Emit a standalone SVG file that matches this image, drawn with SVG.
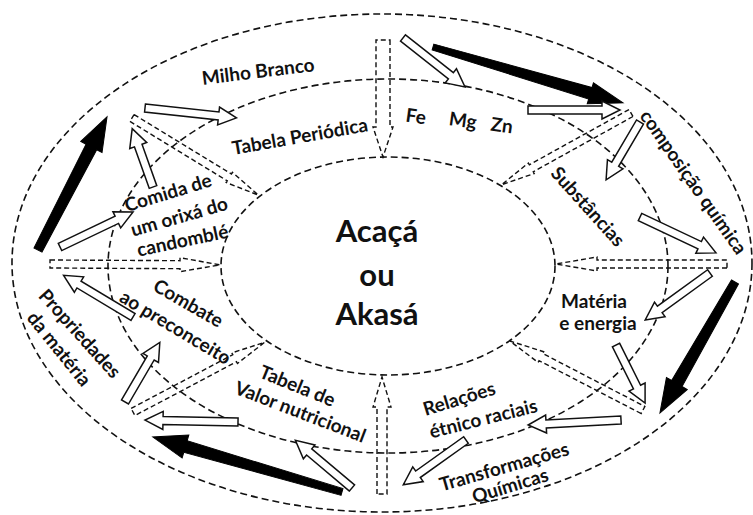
<svg xmlns="http://www.w3.org/2000/svg" width="753" height="515" viewBox="0 0 753 515">
<style>
.ring{fill:none;stroke:#111;stroke-width:1.6;stroke-dasharray:7 4}
.blk{fill:#000;stroke:#000;stroke-width:1}
.wht{fill:#fff;stroke:#111;stroke-width:1.5;stroke-linejoin:miter}
.dsh{fill:none;stroke:#111;stroke-width:1.4;stroke-dasharray:5 3}
.lbl{font-family:Lato,"Open Sans","Liberation Sans",sans-serif;font-weight:700;font-size:19px;fill:#111;text-anchor:middle}
.ctr{font-family:Lato,"Open Sans","Liberation Sans",sans-serif;font-weight:700;font-size:31px;fill:#111;text-anchor:middle}
</style>
<rect width="753" height="515" fill="#fff"/>
<g id="rings">
<ellipse class="ring" cx="382" cy="263" rx="370" ry="249"/>
<ellipse class="ring" cx="388" cy="266" rx="280" ry="187"/>
<ellipse class="ring" cx="388" cy="266" rx="167" ry="109"/>
</g>
<g id="connectors">
<g id="black-arrows">
<polygon class="blk" transform="translate(38,250) rotate(-62.6)" points="0,-4.5 116,-6 116,-12 150,0 116,12 116,6 0,4.5"/>
<polygon class="blk" transform="translate(433,47) rotate(16.4)" points="0,-3 164,-6 164,-11 198,0 164,11 164,6 0,3"/>
<polygon class="blk" transform="translate(735,282) rotate(119.8)" points="0,-4 117,-6 117,-12 151,0 117,12 117,6 0,4"/>
<polygon class="blk" transform="translate(342,492) rotate(196.2)" points="0,-3.5 163,-6 163,-12 197,0 163,12 163,6 0,3.5"/>
</g>
<g id="white-arrows">
<polygon class="wht" transform="translate(145,108) rotate(6.2)" points="0,-4 74,-4 74,-9 92,0 74,9 74,4 0,4"/>
<polygon class="wht" transform="translate(153,187) rotate(-109.6)" points="0,-4 44,-4 44,-9 62,0 44,9 44,4 0,4"/>
<polygon class="wht" transform="translate(60,247) rotate(-25.6)" points="0,-4 63,-4 63,-9 81,0 63,9 63,4 0,4"/>
<polygon class="wht" transform="translate(403,38) rotate(38.3)" points="0,-4 61,-4 61,-9 79,0 61,9 61,4 0,4"/>
<polygon class="wht" transform="translate(528,110) rotate(0)" points="0,-4 74,-4 74,-9 92,0 74,9 74,4 0,4"/>
<polygon class="wht" transform="translate(640,122) rotate(120.4)" points="0,-4 49,-4 49,-9 67,0 49,9 49,4 0,4"/>
<polygon class="wht" transform="translate(640,217) rotate(25.3)" points="0,-4 66,-4 66,-9 84,0 66,9 66,4 0,4"/>
<polygon class="wht" transform="translate(710,273) rotate(144.1)" points="0,-4 62,-4 62,-9 80,0 62,9 62,4 0,4"/>
<polygon class="wht" transform="translate(616,345) rotate(63.4)" points="0,-4 47,-4 47,-9 65,0 47,9 47,4 0,4"/>
<polygon class="wht" transform="translate(621,420) rotate(176.9)" points="0,-4 75,-4 75,-9 93,0 75,9 75,4 0,4"/>
<polygon class="wht" transform="translate(466,440) rotate(144.5)" points="0,-4 59,-4 59,-9 77,0 59,9 59,4 0,4"/>
<polygon class="wht" transform="translate(352,488) rotate(-139.9)" points="0,-4 56,-4 56,-9 74,0 56,9 56,4 0,4"/>
<polygon class="wht" transform="translate(238,422) rotate(181.2)" points="0,-4 75,-4 75,-9 93,0 75,9 75,4 0,4"/>
<polygon class="wht" transform="translate(125,402) rotate(-59.7)" points="0,-4 51,-4 51,-9 69,0 51,9 51,4 0,4"/>
<polygon class="wht" transform="translate(133,317) rotate(-149)" points="0,-4 63,-4 63,-9 81,0 63,9 63,4 0,4"/>
</g>
<g id="dashed-arrows">
<polygon class="dsh" transform="translate(383,40) rotate(90)" points="0,-7 87,-7 87,-10 117,0 87,10 87,7 0,7"/>
<polygon class="dsh" transform="translate(382,494) rotate(-90)" points="0,-5 87,-5 87,-9 117,0 87,9 87,5 0,5"/>
<polygon class="dsh" transform="translate(50,264) rotate(0.3)" points="0,-4 130,-4 130,-7 170,0 130,7 130,4 0,4"/>
<polygon class="dsh" transform="translate(727,264) rotate(180)" points="0,-4 130,-4 130,-7 171,0 130,7 130,4 0,4"/>
<polygon class="dsh" transform="translate(132,118) rotate(31.4)" points="0,-4 114,-4 114,-6 148,0 114,6 114,4 0,4"/>
<polygon class="dsh" transform="translate(631,113) rotate(151)" points="0,-4 114,-4 114,-6 148,0 114,6 114,4 0,4"/>
<polygon class="dsh" transform="translate(133,412) rotate(-27.9)" points="0,-4 115,-4 115,-6 149,0 115,6 115,4 0,4"/>
<polygon class="dsh" transform="translate(643,410) rotate(-152.6)" points="0,-4 115,-4 115,-6 150,0 115,6 115,4 0,4"/>
</g>
</g>
<g id="node-center">
<text class="ctr" x="377" y="242">Acaçá</text>
<text class="ctr" x="377" y="286">ou</text>
<text class="ctr" x="377" y="325">Akasá</text>
</g>
<g id="node-milho"><text class="lbl" transform="translate(259,78) rotate(-7)">Milho Branco</text></g>
<g id="node-tabela-periodica"><text class="lbl" transform="translate(301,143) rotate(-10)">Tabela Periódica</text></g>
<g id="node-elementos">
<text class="lbl" transform="translate(415,123) rotate(8)">Fe</text>
<text class="lbl" transform="translate(462,127) rotate(8)">Mg</text>
<text class="lbl" transform="translate(501,132) rotate(8)">Zn</text>
</g>
<g id="node-composicao"><text class="lbl" transform="translate(688,186) rotate(55)">composição química</text></g>
<g id="node-substancias"><text class="lbl" transform="translate(583,211) rotate(48)">Substâncias</text></g>
<g id="node-materia">
<text class="lbl" x="594" y="308">Matéria</text>
<text class="lbl" x="598" y="330">e energia</text>
</g>
<g id="node-relacoes">
<text class="lbl" transform="translate(461,405) rotate(-17)">Relações</text>
<text class="lbl" transform="translate(485,425) rotate(-14)">étnico raciais</text>
</g>
<g id="node-transformacoes">
<text class="lbl" transform="translate(506,473) rotate(-16)">Transformações</text>
<text class="lbl" transform="translate(512,492) rotate(-17)">Químicas</text>
</g>
<g id="node-tabela-valor">
<text class="lbl" transform="translate(295,392) rotate(22)">Tabela de</text>
<text class="lbl" transform="translate(298,418) rotate(21)">Valor nutricional</text>
</g>
<g id="node-combate">
<text class="lbl" transform="translate(185,309) rotate(30)">Combate</text>
<text class="lbl" transform="translate(172,333) rotate(31)">ao preconceito</text>
</g>
<g id="node-propriedades">
<text class="lbl" transform="translate(75,338) rotate(48)">Propriedades</text>
<text class="lbl" transform="translate(54,353) rotate(51)">da matéria</text>
</g>
<g id="node-comida">
<text class="lbl" transform="translate(170,199) rotate(-17)">Comida de</text>
<text class="lbl" transform="translate(181,223) rotate(-16)">um orixá do</text>
<text class="lbl" transform="translate(184,247) rotate(-12)">candomblé</text>
</g>
</svg>
